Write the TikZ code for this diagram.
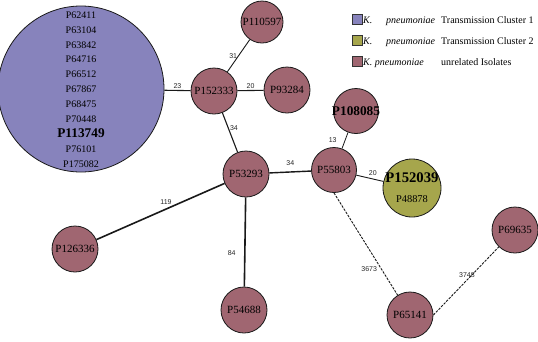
\documentclass[tikz,border=0pt]{standalone}
\usepackage{fontspec}
\setmainfont{Liberation Serif}
\newfontfamily\elabfont{Liberation Sans}
\definecolor{cpurp}{RGB}{135,131,188}
\definecolor{colive}{RGB}{166,166,76}
\definecolor{cmauve}{RGB}{160,102,113}
\definecolor{cedge}{RGB}{25,25,25}
\tikzset{
  iso/.style={circle, draw=cedge, line width=0.8pt, fill=cmauve, inner sep=0pt,
              minimum size=46pt, font=\fontsize{11}{13}\selectfont},
  bigc/.style={circle, draw=cedge, line width=0.8pt, fill=cpurp, inner sep=0pt, minimum size=166pt},
  olivec/.style={circle, draw=cedge, line width=0.8pt, fill=colive, inner sep=0pt, minimum size=58pt},
  txt/.style={inner sep=0pt, align=center},
  conn/.style={draw=cedge, line width=1.1pt},
  dconn/.style={draw=cedge, line width=0.9pt, dash pattern=on 2.5pt off 1.2pt},
  elab/.style={font=\elabfont\fontsize{7}{8}\selectfont, inner sep=1pt, text=black!85},
  legbox/.style={draw=black!80, line width=0.9pt, minimum width=10pt, minimum height=10pt, inner sep=0pt},
  legtxt/.style={inner sep=0pt, anchor=base west, font=\fontsize{10}{12}\selectfont}
}
\begin{document}
\begin{tikzpicture}[x=1pt,y=-1pt]
\useasboundingbox (0,0) rectangle (538,341);

% nodes
\node[bigc] (c1) at (81,89) {};
\node[txt, font=\fontsize{10}{14.9}\selectfont] (c1t) at (81,89.5)
  {P62411\\P63104\\P63842\\P64716\\P66512\\P67867\\P68475\\P70448\\
   {\fontsize{13.3}{14.9}\selectfont\bfseries P113749}\\P76101\\P175082};

\node[iso, minimum size=42pt] (c110597) at (262,22) {P110597};
\node[iso] (c152333) at (214,91) {P152333};
\node[iso] (c93284) at (287,90) {P93284};
\node[iso, minimum size=45pt] (c108085) at (356,111) {};
\node[txt, font=\fontsize{13.3}{15}\selectfont\bfseries] (c108085t) at (c108085.center) {P108085};
\node[iso] (c53293) at (246,174) {P53293};
\node[iso, minimum size=45pt] (c55803) at (334,170) {P55803};
\node[olivec] (c152039) at (412,188) {};
\node[txt, font=\fontsize{14.7}{16}\selectfont\bfseries] (c152039a) at (412,178) {P152039};
\node[txt, font=\fontsize{10.4}{12}\selectfont] (c152039b) at (412,199) {P48878};
\node[iso] (c126336) at (75,249) {P126336};
\node[iso] (c54688) at (244,310) {P54688};
\node[iso] (c65141) at (410,315) {P65141};
\node[iso] (c69635) at (515,230) {P69635};

% connectors
\draw[conn] (c1) -- node[elab, above] {23} (c152333);
\draw[conn, line width=0.9pt] (c152333) -- node[elab, left] {31} (c110597);
\draw[conn] (c152333) -- node[elab, above] {20} (c93284);
\draw[conn] (c152333) -- node[elab, right, pos=.4] {34} (c53293);
\draw[conn, line width=1.4pt] (c53293) -- node[elab, above=5pt] {34} (c55803);
\draw[conn, line width=0.8pt] (c55803) -- node[elab, left=7pt] {13} (c108085);
\draw[conn, line width=0.9pt] (c55803) -- node[elab, above=1pt, xshift=3pt] {20} (c152039);
\draw[conn, line width=1.6pt] (c53293) -- node[elab, above=3pt, pos=.457] {119} (c126336);
\draw[conn, line width=1.6pt] (c53293) -- node[elab, left=7.5pt, pos=.62] {84} (c54688);
\draw[dconn] (c55803.south) -- node[elab, left=3pt, pos=.745] {3673} (c65141);
\draw[dconn] (c65141.east) -- node[elab, pos=.59, xshift=-5pt] {3748} (c69635);

% legend
\node[legbox, fill=cpurp] (lb1) at (357,19) {};
\node[legbox, fill=colive] (lb2) at (357,40) {};
\node[legbox, fill=cmauve] (lb3) at (357,61) {};
\node[legtxt] (l1a) at (363,23) {\textit{K.}};
\node[legtxt] (l1b) at (386,23) {\textit{pneumoniae}};
\node[legtxt] (l1c) at (441,23) {Transmission Cluster 1};
\node[legtxt] (l2a) at (363,44) {\textit{K.}};
\node[legtxt] (l2b) at (386,44) {\textit{pneumoniae}};
\node[legtxt] (l2c) at (441,44) {Transmission Cluster 2};
\node[legtxt] (l3a) at (363,65) {\textit{K. pneumoniae}};
\node[legtxt] (l3c) at (441,65) {unrelated Isolates};
\end{tikzpicture}
\end{document}
